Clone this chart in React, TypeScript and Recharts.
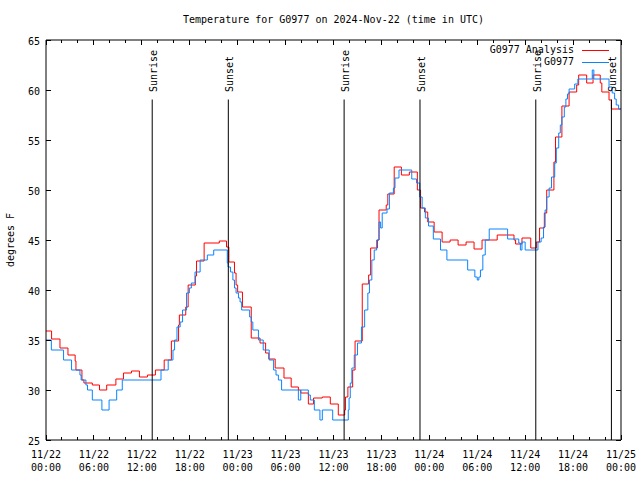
import React from 'react';
import { LineChart, Line, XAxis, YAxis, ReferenceLine, Legend } from 'recharts';

const FONT = '"DejaVu Sans Mono", "Liberation Mono", monospace';

// Hours since 2024-11-22 00:00 UTC
const analysisHours = [
  0, 0.7, 1.75, 2.75, 3.65, 3.75, 4.5, 4.75, 5.8, 6.7, 7.6, 8.75, 9.7, 10.7, 11.7, 12.7, 13.7, 14.8, 15.7,
  16.6, 16.7, 17.5, 17.8, 18.7, 18.85, 19.8, 21.7, 22.6, 22.9, 23.6, 23.8, 24.0, 24.6, 25.7, 26.8, 27.5,
  27.9, 28.7, 29.8, 30.7, 31.6, 31.9, 32.85, 33.5, 34.6, 35.6, 36.6, 37.4, 37.5, 37.8, 38.4, 38.7, 39.6,
  40.4, 40.65, 41.5, 41.7, 42.6, 42.8, 43.6, 44.5, 45.5, 46.5, 46.9, 47.4, 47.8, 48.6, 49.6, 50.6, 51.6,
  52.6, 53.6, 54.6, 56.5, 58.6, 58.8, 59.6, 60.7, 61.4, 61.8, 62.4, 62.7, 63.6, 63.8, 64.6, 65.5, 66.45,
  66.7, 67.7, 68.5, 69.4, 69.6, 70.5, 70.8, 72,
];
const analysisTemps = [
  35.9, 35.1, 34.2, 33.5, 32.9, 32.0, 31.0, 30.7, 30.5, 30.0, 30.5, 31.1, 31.7, 31.9, 31.3, 31.5, 32.0, 33.0, 34.9,
  36.5, 37.5, 38.3, 40.5, 41.4, 42.9, 44.7, 44.9, 44.3, 42.8, 41.7, 40.5, 39.8, 38.3, 35.2, 34.7, 33.7,
  33.1, 32.2, 31.2, 30.3, 30.0, 29.7, 28.6, 29.2, 29.3, 28.6, 27.5, 28.0, 29.3, 30.3, 32.0, 34.9, 40.6,
  41.5, 44.2, 45.0, 48.0, 48.5, 49.6, 52.3, 51.5, 51.8, 50.0, 48.2, 47.8, 46.8, 45.8, 44.8, 45.0, 44.5,
  44.8, 44.1, 45.0, 45.5, 45.0, 44.6, 45.2, 44.2, 44.8, 46.2, 47.7, 50.0, 52.8, 55.3, 58.4, 59.8, 60.5,
  61.5, 60.7, 61.5, 60.7, 59.8, 59.0, 58.1, 58.1,
];

const observedHours = [
  0, 0.67, 2.2, 3.2, 4.25, 4.4, 5.0, 5.2, 5.8, 7.0, 7.9, 8.85, 9.55, 14.4, 15.3, 15.9, 16.1, 16.4, 16.8, 17.1,
  17.6, 17.95, 18.2, 18.66, 19.3, 20.2, 21.0, 22.7, 22.8, 23.1, 23.4, 23.6, 23.8, 24.1, 24.3, 24.5, 24.7,
  25.5, 25.7, 25.9, 26.6, 27.2, 27.95, 28.5, 28.8, 29.1, 29.5, 31.6, 31.9, 32.85, 33.1, 33.6, 34.3, 34.6,
  35.9, 37.85, 37.95, 38.1, 38.3, 38.6, 39.0, 39.5, 39.9, 40.3, 40.5, 40.8, 41.1, 41.4, 41.7, 41.9, 42.1,
  42.7, 43.0, 43.5, 43.7, 44.2, 45.8, 46.4, 46.8, 47.1, 47.5, 47.9, 48.5, 49.4, 50.2, 52.8, 53.7, 54.0,
  54.2, 54.4, 54.7, 55.0, 55.5, 57.8, 59.2, 59.4, 59.6, 60.0, 61.5, 61.6, 62.0, 62.3, 62.5, 62.7, 63.0,
  63.3, 63.7, 63.9, 64.2, 64.4, 64.6, 64.9, 65.1, 65.3, 65.5, 66.2, 66.6, 68.4, 68.6, 70.5, 70.9, 71.2,
  71.4, 71.7, 72,
];
const observedTemps = [
  35.0, 34.0, 33.0, 32.0, 31.5, 31.0, 30.5, 30.0, 29.0, 28.0, 29.0, 30.0, 31.0, 32.0, 33.0, 34.0, 35.0, 36.3, 36.8, 38.0,
  39.7, 40.2, 40.7, 41.8, 43.0, 43.5, 44.0, 42.7, 42.3, 41.8, 41.0, 40.2, 39.7, 39.2, 38.8, 38.0, 38.0,
  37.3, 36.8, 36.0, 35.0, 34.0, 33.0, 32.0, 31.5, 31.0, 30.0, 29.0, 30.0, 29.5, 29.0, 28.0, 27.0, 28.0,
  27.0, 28.0, 29.2, 30.7, 32.2, 33.5, 34.7, 36.3, 38.0, 39.7, 41.0, 43.0, 44.0, 45.0, 46.8, 46.2, 47.7,
  48.1, 49.7, 50.2, 51.2, 52.0, 51.1, 50.7, 49.3, 48.2, 47.2, 46.4, 45.1, 44.0, 43.0, 42.0, 41.3, 41.0,
  41.3, 42.0, 43.5, 45.0, 46.1, 45.1, 44.7, 44.0, 44.8, 44.0, 44.0, 44.8, 45.2, 46.3, 48.0, 49.3, 50.2,
  51.3, 52.7, 54.2, 55.7, 56.5, 57.3, 58.3, 59.1, 59.6, 60.1, 60.6, 61.1, 62.0, 61.1, 60.3, 59.7, 59.1,
  58.5, 58.1, 58.1,
];

const sunEventHours = [13.3, 22.83, 37.33, 46.83, 61.33, 70.8];
const sunEventLabels = ['Sunrise', 'Sunset', 'Sunrise', 'Sunset', 'Sunrise', 'Sunset'];
const sunLineTop = 59.05;

const xTicks = [0, 2, 4, 6, 8, 10, 12, 14, 16, 18, 20, 22, 24, 26, 28, 30, 32, 34, 36, 38, 40, 42, 44, 46, 48, 50, 52, 54, 56, 58, 60, 62, 64, 66, 68, 70, 72];
const majorHours = [0, 6, 12, 18, 24, 30, 36, 42, 48, 54, 60, 66, 72];
const majorDates = ['11/22', '11/22', '11/22', '11/22', '11/23', '11/23', '11/23', '11/23', '11/24', '11/24', '11/24', '11/24', '11/25'];
const majorTimes = ['00:00', '06:00', '12:00', '18:00', '00:00', '06:00', '12:00', '18:00', '00:00', '06:00', '12:00', '18:00', '00:00'];
const yTicks = [25, 30, 35, 40, 45, 50, 55, 60, 65];

const legendItems = [
  { name: 'G0977 Analysis', color: '#ff0000' },
  { name: 'G0977', color: '#0a84ff' },
];

const analysisData = analysisHours.map((h, i) => ({ h, t: analysisTemps[i] }));
const observedData = observedHours.map((h, i) => ({ h, t: observedTemps[i] }));

const txt = { fontFamily: FONT, fontSize: 10, fill: '#000' };

function BottomTick(props: any) {
  const { x, y, payload } = props;
  const idx = majorHours.indexOf(payload.value);
  const len = idx >= 0 ? 5 : 3;
  return (
    <g>
      <line x1={x} y1={y} x2={x} y2={y - len} stroke="#000" shapeRendering="crispEdges" />
      {idx >= 0 && (
        <text x={x} y={y + 18.3} textAnchor="middle" {...txt}>{majorDates[idx]}</text>
      )}
      {idx >= 0 && (
        <text x={x} y={y + 30.7} textAnchor="middle" {...txt}>{majorTimes[idx]}</text>
      )}
    </g>
  );
}

function TopTick(props: any) {
  const { x, y, payload } = props;
  const idx = majorHours.indexOf(payload.value);
  const len = idx >= 0 ? 5 : 3;
  return <line x1={x} y1={y} x2={x} y2={y + len} stroke="#000" shapeRendering="crispEdges" />;
}

function LeftTick(props: any) {
  const { x, y, payload } = props;
  return (
    <g>
      <line x1={x} y1={y} x2={x + 5} y2={y} stroke="#000" shapeRendering="crispEdges" />
      <text x={x - 6} y={y + 4.5} textAnchor="end" {...txt}>{payload.value}</text>
    </g>
  );
}

function RightTick(props: any) {
  const { x, y } = props;
  return <line x1={x} y1={y} x2={x - 5} y2={y} stroke="#000" shapeRendering="crispEdges" />;
}

function YLabel() {
  return (
    <text x={13.5} y={240} transform="rotate(-90 13.5 240)" textAnchor="middle" {...txt}>degrees F</text>
  );
}

function makeSunLabel(text: string) {
  return (props: any) => {
    const vb = props.viewBox || {};
    const x = (vb.x ?? props.x ?? 0) + 5;
    const y = (vb.y ?? props.y ?? 0) - 7.5;
    return (
      <text x={x} y={y} transform={`rotate(-90 ${x} ${y})`} textAnchor="start" {...txt}>{text}</text>
    );
  };
}

function LegendBox() {
  return (
    <div style={{ fontFamily: FONT, fontSize: 10, lineHeight: '12px', color: '#000' }}>
      {legendItems.map((it) => (
        <div key={it.name} style={{ display: 'flex', alignItems: 'center', justifyContent: 'flex-end', height: 12 }}>
          <span>{it.name}</span>
          <span style={{ display: 'inline-block', width: 27, height: 0, borderTop: `1px solid ${it.color}`, marginLeft: 8 }} />
        </div>
      ))}
    </div>
  );
}

export default function App() {
  return (
    <div style={{ position: 'absolute', left: 0, top: 0, width: 640, height: 480, background: '#fff' }}>
      <div
        style={{
          position: 'absolute', left: 0, top: 13.5, width: 667, textAlign: 'center',
          fontFamily: FONT, fontSize: 10, lineHeight: '12px', color: '#000', whiteSpace: 'pre',
        }}
      >
        Temperature for G0977 on 2024-Nov-22 (time in UTC)
      </div>
      <LineChart width={640} height={480} margin={{ top: 0, right: 0, bottom: 0, left: 0 }}>
        <XAxis
          dataKey="h" type="number" domain={[0, 72]} ticks={xTicks} interval={0}
          height={40} tickSize={0} tickMargin={0} tick={BottomTick}
          axisLine={{ stroke: '#000' }} allowDataOverflow
        />
        <XAxis
          xAxisId="top" orientation="top" dataKey="h" type="number" domain={[0, 72]} ticks={xTicks} interval={0}
          height={40} tickSize={0} tickMargin={0} tick={TopTick}
          axisLine={{ stroke: '#000' }} allowDataOverflow
        />
        <YAxis
          type="number" domain={[25, 65]} ticks={yTicks} interval={0} width={46}
          tickSize={0} tickMargin={0} tick={LeftTick} axisLine={{ stroke: '#000' }} label={YLabel}
          allowDataOverflow
        />
        <YAxis
          yAxisId="right" orientation="right" type="number" domain={[25, 65]} ticks={yTicks} interval={0} width={19}
          tickSize={0} tickMargin={0} tick={RightTick} axisLine={{ stroke: '#000' }} allowDataOverflow
        />
        <Line
          data={analysisData} dataKey="t" name="G0977 Analysis" type="stepAfter" stroke="#ff0000"
          strokeWidth={1} dot={false} activeDot={false} isAnimationActive={false}
        />
        <Line
          data={observedData} dataKey="t" name="G0977" type="stepAfter" stroke="#0a84ff"
          strokeWidth={1} dot={false} activeDot={false} isAnimationActive={false}
        />
        {sunEventHours.map((h, i) => (
          <ReferenceLine
            key={i}
            segment={[{ x: h, y: 25 }, { x: h, y: sunLineTop }]}
            stroke="#000" strokeWidth={1} ifOverflow="visible"
            label={makeSunLabel(sunEventLabels[i])}
          />
        ))}
        <Legend
          layout="horizontal" verticalAlign="middle" align="center" content={LegendBox}
          wrapperStyle={{ position: 'absolute', top: 44, right: 31, left: 'auto', width: 'auto', height: 'auto' }}
        />
      </LineChart>
    </div>
  );
}
